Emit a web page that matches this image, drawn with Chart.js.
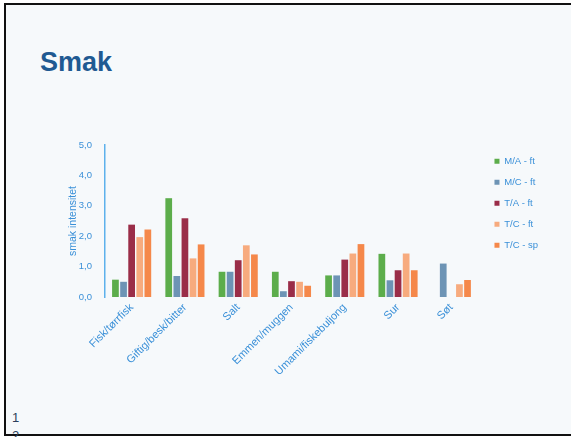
<!DOCTYPE html>
<html>
<head>
<meta charset="utf-8">
<script src="https://cdn.jsdelivr.net/npm/chart.js@4.4.0/dist/chart.umd.min.js"></script>
<style>
  html, body { margin: 0; padding: 0; width: 571px; height: 437px; overflow: hidden; background: #ffffff; }
  #slide { position: absolute; left: 4px; top: 3px; width: 575px; height: 429px; border: 2px solid #111; border-right: none; background: #f6f9fb; }
  #title { position: absolute; left: 34px; top: 42px; font-family: "Liberation Sans", Arial, sans-serif; font-weight: bold; font-size: 27px; color: #1f5a92; }
  #num { position: absolute; left: 6px; top: 404px; font-family: "Liberation Sans", Arial, sans-serif; font-size: 13px; color: #2b3f5c; line-height: 18px; }
  #wrap { position: absolute; left: 0; top: 0; width: 571px; height: 437px; }
</style>
</head>
<body>
<div id="slide">
  <div id="title">Smak</div>
  <div id="num">1<br>2</div>
</div>
<div id="wrap"><canvas id="c" width="571" height="437"></canvas></div>
<script>
const categories = ["Fisk/tørrfisk", "Giftig/besk/bitter", "Salt", "Emmen/muggen", "Umami/fiskebuljong", "Sur", "Søt"];
const seriesNames = ["M/A - ft", "M/C - ft", "T/A - ft", "T/C - ft", "T/C - sp"];
const maFt = [0.57, 3.25, 0.83, 0.83, 0.71, 1.42, null];
const mcFt = [0.50, 0.69, 0.83, 0.19, 0.71, 0.55, 1.10];
const taFt = [2.38, 2.59, 1.21, 0.52, 1.23, 0.88, null];
const tcFt = [1.97, 1.27, 1.70, 0.50, 1.43, 1.43, 0.42];
const tcSp = [2.22, 1.73, 1.40, 0.37, 1.74, 0.88, 0.56];
const yTicks = [0, 1, 2, 3, 4, 5];
const colors = ["#5cad4b", "#6d94b5", "#9a2d48", "#f7ab7e", "#f5884a"];

const blue = "#3a90d8";
const allSeries = [maFt, mcFt, taFt, tcFt, tcSp];
const fam = "Liberation Sans, Arial, sans-serif";

const legendNudge = {
  id: "legendNudge",
  afterLayout(chart) {
    const lg = chart.legend;
    if (lg) {
      lg.left += 5;
      lg.right += 5;
      if (lg.legendHitBoxes) lg.legendHitBoxes.forEach(h => { h.left += 5; });
    }
  }
};

new Chart(document.getElementById("c"), {
  type: "bar",
  data: {
    labels: categories,
    datasets: allSeries.map((d, i) => ({
      label: seriesNames[i],
      data: d,
      backgroundColor: colors[i],
      borderWidth: 0,
      categoryPercentage: 0.76,
      barPercentage: 0.83
    }))
  },
  plugins: [legendNudge],
  options: {
    responsive: false,
    animation: false,
    devicePixelRatio: 1,
    layout: { padding: { left: 67, top: 145, right: 28, bottom: 30 } },
    plugins: {
      tooltip: { enabled: false },
      legend: {
        position: "right",
        align: "start",
        labels: {
          boxWidth: 5,
          boxHeight: 5,
          padding: 11.5,
          color: blue,
          font: { family: fam, size: 9.5 }
        }
      }
    },
    scales: {
      x: {
        grid: { display: false, drawTicks: false },
        border: { display: false },
        ticks: {
          color: blue,
          minRotation: 45,
          maxRotation: 45,
          padding: 4,
          font: { family: fam, size: 11 }
        },
        afterFit: (s) => { s.height = 110; }
      },
      y: {
        min: 0,
        max: 5,
        afterBuildTicks: (s) => { s.ticks = yTicks.map(v => ({ value: v })); },
        grid: { display: false, drawTicks: false },
        border: { display: true, color: "#5db1ec", width: 1.5 },
        ticks: {
          color: blue,
          padding: 13,
          font: { family: fam, size: 9.5 },
          callback: (v) => v.toFixed(1).replace(".", ",")
        },
        title: {
          display: true,
          text: "smak intensitet",
          color: blue,
          padding: { top: 0, bottom: 0 },
          font: { family: fam, size: 10.5 }
        },
        afterFit: (s) => { s.width = 38; }
      }
    }
  }
});
</script>
</body>
</html>
